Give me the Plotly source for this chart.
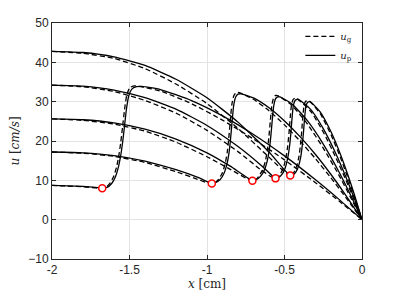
import plotly.graph_objects as go

# ---- data (x in cm, u in cm/s) ----
t1_xp = [-2, -1.9, -1.8, -1.72, -1.676, -1.645, -1.615, -1.59, -1.572, -1.558, -1.545, -1.533, -1.52, -1.505, -1.485, -1.455, -1.42, -1.3, -1.1, -0.9, -0.7, -0.5, -0.3, -0.15, 0]
t1_up = [8.7, 8.6, 8.45, 8.2, 8.0, 8.2, 9.2, 11.0, 13.3, 16.0, 19.5, 23.5, 28.0, 31.5, 33.2, 33.8, 33.9, 33.07, 30.27, 26.39, 21.66, 16.22, 10.15, 5.22, 0]
t1_xg = [-2, -1.9, -1.8, -1.72, -1.676, -1.655, -1.627, -1.602, -1.584, -1.570, -1.557, -1.545, -1.532, -1.517, -1.497, -1.467, -1.44, -1.3, -1.1, -0.9, -0.7, -0.5, -0.3, -0.15, 0]
t1_ug = [8.7, 8.55, 8.35, 8.1, 7.9, 8.1, 9.2, 11.0, 13.3, 16.0, 19.5, 23.5, 28.0, 31.8, 33.6, 34.0, 33.9, 32.7, 29.5, 25.3, 20.5, 15.2, 9.4, 4.8, 0]

t2_xp = [-2, -1.8, -1.6, -1.4, -1.2, -1.05, -0.969, -0.945, -0.915, -0.89, -0.872, -0.858, -0.848, -0.838, -0.828, -0.815, -0.8, -0.78, -0.7, -0.6, -0.5, -0.4, -0.3, -0.2, -0.1, 0]
t2_up = [17.2, 17.0, 16.3, 14.9, 12.7, 10.6, 9.2, 9.4, 10.2, 11.8, 14.0, 17.0, 20.5, 25.0, 29.0, 31.2, 31.9, 32.0, 30.95, 28.45, 25.1, 21.1, 16.56, 11.48, 5.95, 0]
t2_xg = [-2, -1.8, -1.6, -1.4, -1.2, -1.05, -0.969, -0.957, -0.927, -0.902, -0.884, -0.870, -0.860, -0.850, -0.840, -0.827, -0.812, -0.79, -0.7, -0.6, -0.5, -0.4, -0.3, -0.2, -0.1, 0]
t2_ug = [17.2, 16.9, 16.1, 14.55, 12.2, 10.1, 9.0, 9.1, 10.2, 11.8, 14.0, 17.0, 20.5, 25.0, 29.2, 31.5, 32.3, 32.3, 30.6, 27.7, 24.1, 20.0, 15.5, 10.6, 5.4, 0]

t3_xp = [-2, -1.8, -1.6, -1.4, -1.2, -1.0, -0.85, -0.707, -0.685, -0.655, -0.63, -0.612, -0.598, -0.588, -0.579, -0.57, -0.558, -0.545, -0.53, -0.45, -0.35, -0.25, -0.15, -0.07, 0]
t3_up = [25.6, 25.4, 24.6, 23.0, 20.5, 17.0, 13.6, 9.9, 10.1, 11.0, 12.6, 14.8, 17.8, 21.3, 25.3, 28.8, 30.7, 31.2, 31.2, 29.37, 25.03, 19.22, 12.26, 5.97, 0]
t3_xg = [-2, -1.8, -1.6, -1.4, -1.2, -1.0, -0.85, -0.707, -0.695, -0.667, -0.642, -0.624, -0.610, -0.600, -0.591, -0.582, -0.570, -0.557, -0.54, -0.45, -0.35, -0.25, -0.15, -0.07, 0]
t3_ug = [25.6, 25.25, 24.3, 22.5, 19.7, 16.0, 12.8, 9.7, 9.8, 11.0, 12.6, 14.8, 17.8, 21.3, 25.3, 29.0, 31.0, 31.6, 31.5, 29.0, 24.2, 18.2, 11.4, 5.4, 0]

t4_xp = [-2, -1.8, -1.6, -1.4, -1.2, -1.0, -0.8, -0.65, -0.558, -0.54, -0.515, -0.495, -0.48, -0.468, -0.459, -0.451, -0.443, -0.432, -0.42, -0.41, -0.33, -0.25, -0.17, -0.1, -0.05, 0]
t4_up = [34.2, 33.95, 32.95, 31.0, 28.1, 23.95, 18.6, 13.8, 10.5, 10.7, 11.6, 13.2, 15.5, 18.5, 22.0, 26.0, 29.0, 30.3, 30.6, 30.6, 27.96, 23.14, 16.89, 10.48, 5.43, 0]
t4_xg = [-2, -1.8, -1.6, -1.4, -1.2, -1.0, -0.8, -0.65, -0.558, -0.55, -0.527, -0.507, -0.492, -0.480, -0.471, -0.463, -0.455, -0.444, -0.432, -0.42, -0.33, -0.25, -0.17, -0.1, -0.05, 0]
t4_ug = [34.2, 33.8, 32.6, 30.3, 27.1, 22.7, 17.3, 12.6, 10.3, 10.5, 11.6, 13.2, 15.5, 18.5, 22.0, 26.0, 29.2, 30.6, 30.9, 30.8, 27.5, 22.3, 15.9, 9.7, 4.9, 0]

t5_xp = [-2, -1.8, -1.6, -1.4, -1.2, -1.0, -0.8, -0.6, -0.463, -0.445, -0.425, -0.408, -0.395, -0.385, -0.377, -0.37, -0.362, -0.352, -0.335, -0.27, -0.2, -0.14, -0.08, -0.04, 0]
t5_up = [42.8, 42.5, 41.4, 39.2, 35.7, 31.0, 24.8, 17.2, 11.2, 11.4, 12.2, 13.8, 16.0, 19.0, 22.5, 26.0, 28.8, 29.8, 30.0, 27.4, 22.33, 16.68, 10.08, 5.19, 0]
t5_xg = [-2, -1.8, -1.6, -1.4, -1.2, -1.0, -0.8, -0.6, -0.463, -0.455, -0.437, -0.420, -0.407, -0.397, -0.389, -0.382, -0.374, -0.364, -0.347, -0.34, -0.27, -0.2, -0.14, -0.08, -0.04, 0]
t5_ug = [42.8, 42.3, 41.0, 38.4, 34.5, 29.5, 23.2, 15.9, 10.9, 11.1, 12.2, 13.8, 16.0, 19.0, 22.5, 26.0, 29.0, 30.1, 30.3, 30.2, 27.0, 21.6, 15.9, 9.4, 4.8, 0]

marker_x = [-1.676, -0.969, -0.707, -0.558, -0.463]
marker_u = [8.0, 9.2, 9.9, 10.5, 11.2]

x_ticks = [-2, -1.5, -1, -0.5, 0]
x_tick_labels = ["-2", "-1.5", "-1", "-0.5", "0"]
y_ticks = [-10, 0, 10, 20, 30, 40, 50]

# ---- figure ----
fig = go.Figure()
gas = [(t1_xg, t1_ug), (t2_xg, t2_ug), (t3_xg, t3_ug), (t4_xg, t4_ug), (t5_xg, t5_ug)]
part = [(t1_xp, t1_up), (t2_xp, t2_up), (t3_xp, t3_up), (t4_xp, t4_up), (t5_xp, t5_up)]

for i, (xs, us) in enumerate(gas):
    fig.add_trace(go.Scatter(
        x=xs, y=us, mode="lines",
        line=dict(color="black", width=1.3, dash="5px,3px", shape="spline", smoothing=0.5),
        name="<i>u</i><sub>g</sub>", showlegend=(i == 0), legendrank=1,
        hoverinfo="skip"))
for i, (xs, us) in enumerate(part):
    fig.add_trace(go.Scatter(
        x=xs, y=us, mode="lines",
        line=dict(color="black", width=1.3, shape="spline", smoothing=0.5),
        name="<i>u</i><sub>p</sub>", showlegend=(i == 0), legendrank=2,
        hoverinfo="skip"))

fig.add_trace(go.Scatter(
    x=marker_x, y=marker_u, mode="markers",
    marker=dict(symbol="circle", size=7, color="white", line=dict(color="red", width=1.5)),
    showlegend=False, hoverinfo="skip"))

axis_common = dict(
    showline=True, linecolor="#262626", linewidth=1, mirror="ticks",
    ticks="inside", ticklen=4, tickcolor="#262626",
    showgrid=True, gridcolor="#e3e3e3", gridwidth=1,
    zeroline=False, automargin=False,
    tickfont=dict(family="Liberation Sans, Arial, sans-serif", size=12, color="#262626"),
)

fig.update_xaxes(range=[-2, 0], tickvals=x_ticks, ticktext=x_tick_labels,
                 title=dict(text="<i>x</i> [cm]", standoff=3,
                            font=dict(family="DejaVu Serif, Liberation Serif, serif", size=12, color="#262626")),
                 **axis_common)
fig.update_yaxes(range=[-10, 50], tickvals=y_ticks,
                 title=dict(text="<i>u</i> [<i>cm/s</i>]", standoff=8,
                            font=dict(family="DejaVu Serif, Liberation Serif, serif", size=12, color="#262626")),
                 **axis_common)

fig.update_layout(
    width=391, height=291,
    margin=dict(l=44, r=37, t=15, b=40),
    paper_bgcolor="white", plot_bgcolor="white",
    legend=dict(x=0.985, y=1.005, xanchor="right", yanchor="top",
                bgcolor="rgba(255,255,255,0)", borderwidth=0,
                font=dict(family="DejaVu Serif, Liberation Serif, serif", size=10, color="#262626"),
                tracegroupgap=0, itemwidth=30),
    showlegend=True,
)

fig.write_html("out.html")
